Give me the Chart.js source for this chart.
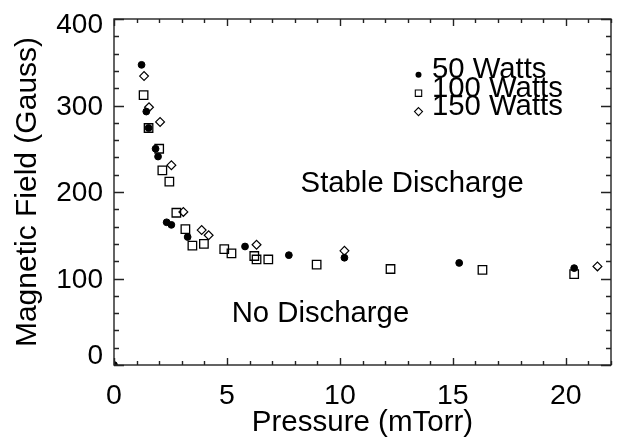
<!DOCTYPE html>
<html>
<head>
<meta charset="utf-8">
<script src="https://cdn.jsdelivr.net/npm/chart.js@4/dist/chart.umd.min.js"></script>
<style>
  body { margin: 0; background: #fff; }
  canvas { display: block; }
</style>
</head>
<body>
<canvas id="field-chart" width="622" height="439"></canvas>
<script>
// Data: pressure (mTorr) / magnetic field (Gauss)
const seriesNames = ['50 Watts', '100 Watts', '150 Watts'];

const p50 = [0, 1.22, 1.43, 1.53, 1.84, 1.95, 2.33, 2.54, 3.26, 5.8, 7.74, 10.2, 15.28, 20.37];
const b50 = [0, 347, 293, 274, 250, 241, 165, 162, 148, 137, 127, 124, 118, 112];

const p100 = [1.31, 1.53, 2.0, 2.14, 2.45, 2.76, 3.16, 3.47, 3.98, 4.88, 5.2, 6.21, 6.31, 6.83, 8.97, 12.24, 16.31, 20.37];
const b100 = [312, 274, 250, 225, 212, 176, 157, 138, 140, 134, 129, 126, 122, 122, 116, 111, 110, 105];

const p150 = [1.33, 1.55, 2.04, 2.54, 3.07, 3.88, 4.19, 6.31, 10.2, 21.4];
const b150 = [334, 298, 281, 231, 177, 156, 150, 139, 132, 114];

const xTicks = [0, 5, 10, 15, 20];
const yTicks = [0, 100, 200, 300, 400];

// Region labels, anchored in data units (left edge, baseline)
const regionNotes = [
  { text: 'Stable Discharge', x: 8.26, y: 200 },
  { text: 'No Discharge', x: 5.21, y: 50 }
];

const FONT = "'Liberation Sans', Arial, Helvetica, sans-serif";
const INK = '#000';
const AXIS = '#222';

const toPoints = (xs, ys) => xs.map((x, i) => ({ x, y: ys[i] }));

// Draw a marker by hand (used for the legend)
function drawMarker(ctx, style, x, y, r) {
  ctx.beginPath();
  if (style === 'circle') {
    ctx.arc(x, y, r, 0, Math.PI * 2);
    ctx.fill();
  } else if (style === 'rect') {
    ctx.rect(x - r, y - r, r * 2, r * 2);
    ctx.stroke();
  } else {
    ctx.moveTo(x, y - r);
    ctx.lineTo(x + r, y);
    ctx.lineTo(x, y + r);
    ctx.lineTo(x - r, y);
    ctx.closePath();
    ctx.stroke();
  }
}

// Box frame with inward major/minor ticks on all four sides
const frameTicks = {
  id: 'frameTicks',
  afterDraw(chart) {
    const { ctx, chartArea: a, scales: { x, y } } = chart;
    ctx.save();
    ctx.strokeStyle = AXIS;
    ctx.lineWidth = 1.4;
    ctx.strokeRect(a.left, a.top, a.right - a.left, a.bottom - a.top);
    ctx.beginPath();
    for (let v = 0; v <= x.max; v += 1) {
      const px = Math.round(x.getPixelForValue(v)) + 0.5;
      const len = v % 5 === 0 ? 7 : 4;
      ctx.moveTo(px, a.bottom); ctx.lineTo(px, a.bottom - len);
      ctx.moveTo(px, a.top); ctx.lineTo(px, a.top + len);
    }
    for (let v = 0; v <= y.max; v += 20) {
      const py = Math.round(y.getPixelForValue(v)) + 0.5;
      const len = v % 100 === 0 ? 10 : 5;
      ctx.moveTo(a.left, py); ctx.lineTo(a.left + len, py);
      ctx.moveTo(a.right, py); ctx.lineTo(a.right - len, py);
    }
    ctx.stroke();

    // y tick labels: end labels are kept inside the frame like the original
    ctx.fillStyle = INK;
    ctx.font = `28px ${FONT}`;
    ctx.textAlign = 'right';
    ctx.textBaseline = 'middle';
    yTicks.forEach(v => {
      const py = Math.min(Math.max(y.getPixelForValue(v) + 1.5, a.top + 6), a.bottom - 9);
      ctx.fillText(String(v), a.left - 11, py);
    });
    ctx.restore();
  }
};

// Region labels + the stacked legend in the upper right
const textLayer = {
  id: 'textLayer',
  afterDraw(chart) {
    const { ctx, scales: { x, y } } = chart;
    ctx.save();
    ctx.fillStyle = INK;
    ctx.font = `29.3px ${FONT}`;
    ctx.textAlign = 'left';
    ctx.textBaseline = 'alphabetic';
    regionNotes.forEach(n => {
      ctx.fillText(n.text, x.getPixelForValue(n.x), y.getPixelForValue(n.y));
    });

    const styles = ['circle', 'rect', 'rectRot'];
    const sizes = [3, 3.2, 4];
    const markX = 418.5, textX = 432, base0 = 78.3, step = 18.4;
    ctx.strokeStyle = INK;
    ctx.lineWidth = 1.1;
    seriesNames.forEach((name, i) => {
      const base = base0 + i * step;
      drawMarker(ctx, styles[i], markX, base - 3.5, sizes[i]);
      ctx.fillText(name, textX, base);
    });
    ctx.restore();
  }
};

function renderChart() {
  const canvas = document.getElementById('field-chart');
  if (!canvas || typeof Chart === 'undefined') return;
  new Chart(canvas.getContext('2d'), {
    type: 'scatter',
    data: {
      datasets: [
        {
          label: seriesNames[0],
          data: toPoints(p50, b50),
          pointStyle: 'circle',
          pointRadius: 3.4,
          borderWidth: 1,
          borderColor: INK,
          backgroundColor: INK,
          clip: 0
        },
        {
          label: seriesNames[1],
          data: toPoints(p100, b100),
          pointStyle: 'rect',
          pointRadius: 6,
          borderWidth: 1.3,
          borderColor: INK,
          backgroundColor: 'rgba(255,255,255,0)',
          clip: 0
        },
        {
          label: seriesNames[2],
          data: toPoints(p150, b150),
          pointStyle: 'rectRot',
          pointRadius: 4.4,
          borderWidth: 1.2,
          borderColor: INK,
          backgroundColor: 'rgba(255,255,255,0)',
          clip: 0
        }
      ]
    },
    options: {
      responsive: false,
      animation: false,
      devicePixelRatio: 1,
      layout: { padding: { top: 19, right: 11, left: 0, bottom: 0 } },
      plugins: {
        legend: { display: false },
        tooltip: { enabled: false }
      },
      scales: {
        x: {
          type: 'linear',
          min: 0,
          max: 22,
          afterBuildTicks: s => { s.ticks = xTicks.map(v => ({ value: v })); },
          afterFit: s => { s.height = 74; s.paddingLeft = 0; s.paddingRight = 0; },
          grid: { display: false, drawTicks: false },
          border: { display: false },
          ticks: { color: INK, font: { family: FONT, size: 28.5 }, padding: 14, maxRotation: 0 },
          title: {
            display: true,
            text: 'Pressure (mTorr)',
            color: INK,
            font: { family: FONT, size: 29.5 },
            padding: { top: 0, bottom: -2 }
          }
        },
        y: {
          type: 'linear',
          min: 0,
          max: 400,
          afterBuildTicks: s => { s.ticks = yTicks.map(v => ({ value: v })); },
          afterFit: s => { s.width = 114; s.paddingTop = 0; s.paddingBottom = 0; },
          grid: { display: false, drawTicks: false },
          border: { display: false },
          ticks: { display: false },
          title: {
            display: true,
            text: 'Magnetic Field (Gauss)',
            color: INK,
            font: { family: FONT, size: 30 },
            padding: { top: 10, bottom: 0 }
          }
        }
      }
    },
    plugins: [frameTicks, textLayer]
  });
}

document.addEventListener('DOMContentLoaded', renderChart);
</script>
</body>
</html>
